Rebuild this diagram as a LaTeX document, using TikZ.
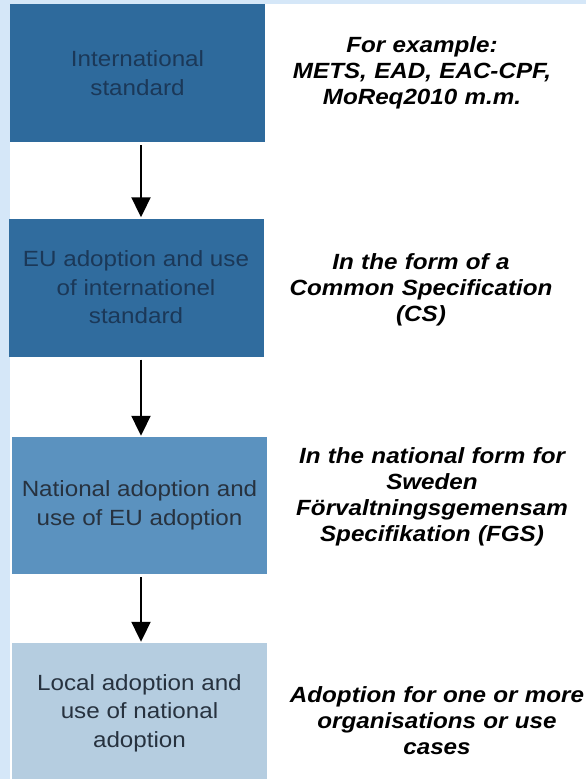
\documentclass[tikz,border=0pt]{standalone}
\usepackage{fontspec}
\usepackage{tikz}
\usetikzlibrary{arrows.meta}
\setmainfont{Liberation Sans}[FakeStretch=1.1]

\definecolor{frameblue}{HTML}{D5E7F8}
\definecolor{intlblue}{HTML}{2E6A9C}
\definecolor{eublue}{HTML}{306C9E}
\definecolor{natblue}{HTML}{5B92BF}
\definecolor{locblue}{HTML}{B5CDE0}
\definecolor{darktext}{HTML}{1B3858}
\definecolor{graytext}{HTML}{27323F}

\begin{document}
\begin{tikzpicture}[x=1pt,y=-1pt]

  \def\xmax{586}
  \def\ymax{779}
  \def\arrowx{141}

  \tikzset{
    level/.style={minimum width=255pt, minimum height=138pt, inner sep=0pt,
      align=center, font=\fontsize{22}{28.5}\selectfont},
    note/.style={align=center, text width=300pt,
      font=\fontsize{22}{26}\selectfont\bfseries\itshape},
    flow/.style={line width=2pt, -{Triangle[length=20pt,width=19pt]},
      shorten <=3pt, shorten >=1pt}
  }

  % frame
  \useasboundingbox (0,0) rectangle (\xmax,\ymax);
  \fill[frameblue] (0,0) rectangle (\xmax,\ymax);
  \fill[white] (10,4) rectangle (\xmax,\ymax);

  % levels
  \node[level, fill=intlblue, text=darktext] (intl) at (137.5,73)
    {International\\standard};
  \node[level, fill=eublue, text=darktext] (eu) at (136,287.5)
    {EU adoption and use\\of internationel\\standard};
  \node[level, fill=natblue, text=graytext, minimum height=137pt] (nat) at (139.5,505.5)
    {National adoption and\\use of EU adoption};
  \node[level, fill=locblue, text=graytext, minimum height=140pt] (loc) at (139.5,713)
    {Local adoption and\\use of national\\adoption};

  % arrows
  \foreach \a/\b in {intl/eu, eu/nat, nat/loc}
    \draw[flow] (\a.south -| \arrowx,0) -- (\b.north -| \arrowx,0);

  % notes
  \node[note] (intlnote) at (422,73)
    {For example:\\METS, EAD, EAC-CPF,\\MoReq2010 m.m.};
  \node[note] (eunote) at (421,290)
    {In the form of a\\Common Specification\\(CS)};
  \node[note] (natnote) at (432,497)
    {In the national form for\\Sweden\\Förvaltningsgemensam\\Specifikation (FGS)};
  \node[note] (locnote) at (437,721)
    {Adoption for one or more\\organisations or use\\cases};

\end{tikzpicture}
\end{document}
